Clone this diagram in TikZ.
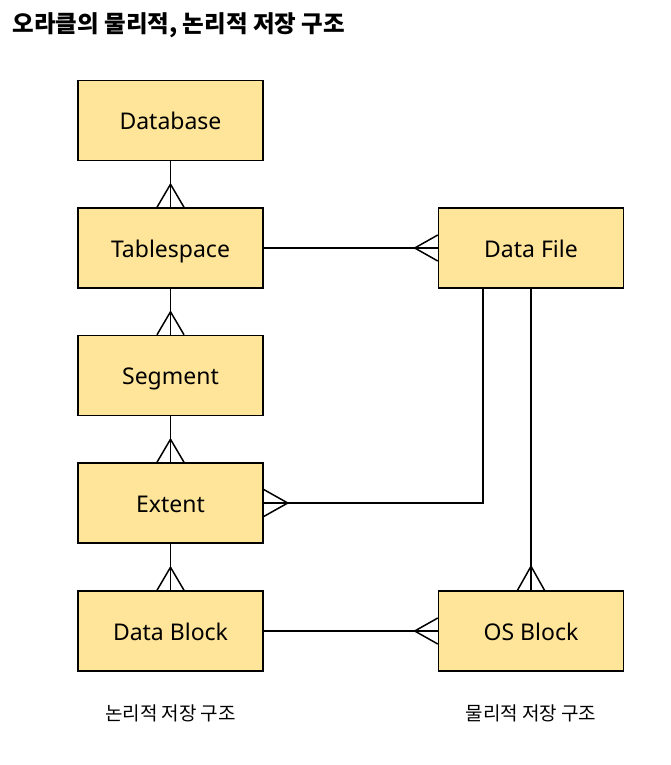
\documentclass[tikz,border=0pt]{standalone}
\usepackage{fontspec}
\setmainfont{Noto Sans}
\newfontfamily\kr{Noto Sans CJK KR}
\usetikzlibrary{calc}
\definecolor{boxfill}{HTML}{FFE599}
\tikzset{
  ent/.style={draw=black, line width=1.5pt, fill=boxfill, minimum width=185pt, minimum height=80pt, inner sep=0pt, text height=18pt, text depth=0pt, font=\fontsize{23}{26}\selectfont},
  conn/.style={draw=black, line width=1.5pt},
  foot/.style={draw=black, line width=1.5pt, line join=miter},
  captext/.style={font=\kr\fontsize{19}{22}\selectfont},
}
\begin{document}
\begin{tikzpicture}[x=1pt,y=-1pt]
\useasboundingbox[fill=white] (0,0) rectangle (671,765);
\node[anchor=base west, font=\kr\bfseries\fontsize{23.5}{26}\selectfont] (title) at (9,33) {오라클의 물리적, 논리적 저장 구조};
\node[ent] (db) at (170.5,120.5) {Database};
\node[ent] (ts) at (170.5,248) {Tablespace};
\node[ent] (seg) at (170.5,375.5) {Segment};
\node[ent] (ext) at (170.5,503) {Extent};
\node[ent] (blk) at (170.5,631) {Data Block};
\node[ent] (df) at (531,248) {Data File};
\node[ent] (os) at (531,631) {OS Block};
\node[captext] (lg) at (170.5,713) {논리적 저장 구조};
\node[captext] (ph) at (531,713) {물리적 저장 구조};
% vertical one-to-many
\draw[conn] (db.south) -- (ts.north);
\draw[foot] ($(ts.north)+(-13.5,0)$) -- ($(ts.north)+(0,-23)$) -- ($(ts.north)+(13.5,0)$);
\draw[conn] (ts.south) -- (seg.north);
\draw[foot] ($(seg.north)+(-13.5,0)$) -- ($(seg.north)+(0,-23)$) -- ($(seg.north)+(13.5,0)$);
\draw[conn] (seg.south) -- (ext.north);
\draw[foot] ($(ext.north)+(-13.5,0)$) -- ($(ext.north)+(0,-23)$) -- ($(ext.north)+(13.5,0)$);
\draw[conn] (ext.south) -- (blk.north);
\draw[foot] ($(blk.north)+(-13.5,0)$) -- ($(blk.north)+(0,-23)$) -- ($(blk.north)+(13.5,0)$);
% tablespace - data file
\draw[conn] (ts.east) -- (df.west);
\draw[foot] ($(df.west)+(0,-13)$) -- ($(df.west)+(-23,0)$) -- ($(df.west)+(0,13)$);
% data file - extent
\coordinate (dfx) at ($(df.south)+(-48,0)$);
\draw[conn] (dfx) |- (ext.east);
\draw[foot] ($(ext.east)+(0,-13.5)$) -- ($(ext.east)+(24,0)$) -- ($(ext.east)+(0,13.5)$);
% data file - os block
\draw[conn] (df.south) -- (os.north);
\draw[foot] ($(os.north)+(-13.5,0)$) -- ($(os.north)+(0,-24)$) -- ($(os.north)+(13.5,0)$);
% data block - os block
\draw[conn] (blk.east) -- (os.west);
\draw[foot] ($(os.west)+(0,-13)$) -- ($(os.west)+(-23,0)$) -- ($(os.west)+(0,13)$);
\end{tikzpicture}
\end{document}
